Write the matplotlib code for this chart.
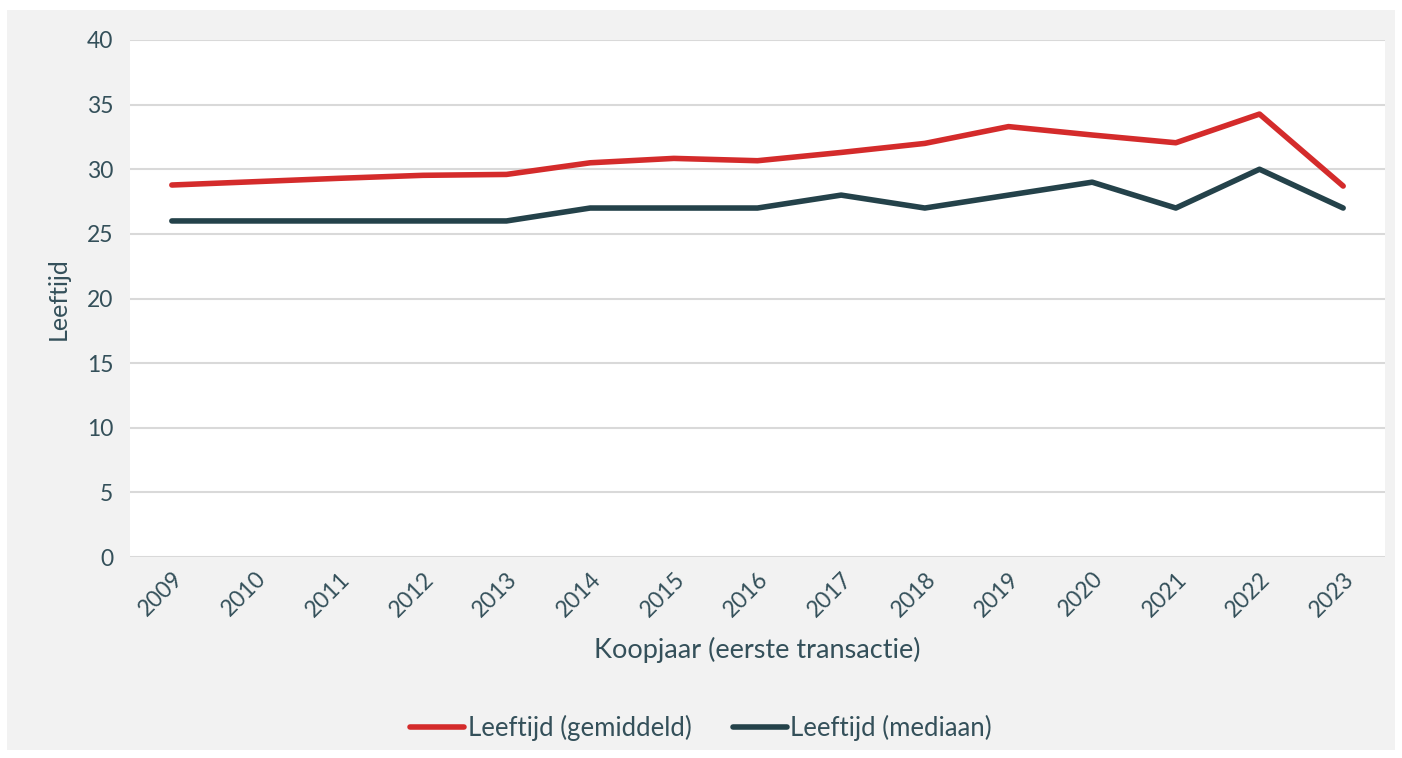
import numpy as np
import matplotlib.pyplot as plt
from matplotlib.patches import Rectangle

plt.rcParams['font.family'] = ['Lato', 'DejaVu Sans']

years = ['2009', '2010', '2011', '2012', '2013', '2014', '2015', '2016',
         '2017', '2018', '2019', '2020', '2021', '2022', '2023']
gemiddeld = [28.78, 29.04, 29.3, 29.53, 29.6, 30.5, 30.84, 30.66,
             31.3, 32.0, 33.3, 32.65, 32.05, 34.27, 28.7]
mediaan = [26, 26, 26, 26, 26, 27, 27, 27, 28, 27, 28, 29, 27, 30, 27]

red = '#d42b2b'
dark = '#24424a'
txt = '#34505a'

fig = plt.figure(figsize=(14.02, 7.58), dpi=100, facecolor='white')
fig.patches.append(Rectangle((7/1402, 8/758), 1388/1402, 740/758,
                             transform=fig.transFigure, facecolor='#f2f2f2',
                             edgecolor='none', zorder=-10))
ax = fig.add_axes([130/1402, 1-557/758, 1255/1402, 517/758])
ax.set_facecolor('white')

x = np.arange(len(years))
ax.plot(x, gemiddeld, color=red, lw=4, solid_capstyle='round', label='Leeftijd (gemiddeld)')
ax.plot(x, mediaan, color=dark, lw=4, solid_capstyle='round', label='Leeftijd (mediaan)')

ax.set_xlim(-0.5, len(years)-0.5)
ax.set_ylim(0, 40)
ax.set_yticks(np.arange(0, 41, 5))
ax.set_xticks(x)
ax.set_xticklabels(years, rotation=45, ha='right', rotation_mode='anchor')
ax.grid(True, axis='y', color='#d9d9d9', lw=1.5)
ax.set_axisbelow(True)
for s in ax.spines.values():
    s.set_visible(False)
ax.tick_params(length=0, labelsize=16.5, colors=txt, pad=12)
ax.tick_params(axis='x', pad=8)
ax.set_ylabel('Leeftijd', fontsize=18, color=txt, labelpad=12)
ax.set_xlabel('Koopjaar (eerste transactie)', fontsize=19.5, color=txt, labelpad=12)

leg = fig.legend(loc='center', bbox_to_anchor=(0.5, 1-728/758), ncol=2, frameon=False,
                 fontsize=18.5, handlelength=2.1, handletextpad=0.15, columnspacing=1.6)
for t in leg.get_texts():
    t.set_color(txt)

fig.savefig('out.png', dpi=100, facecolor=fig.get_facecolor())
